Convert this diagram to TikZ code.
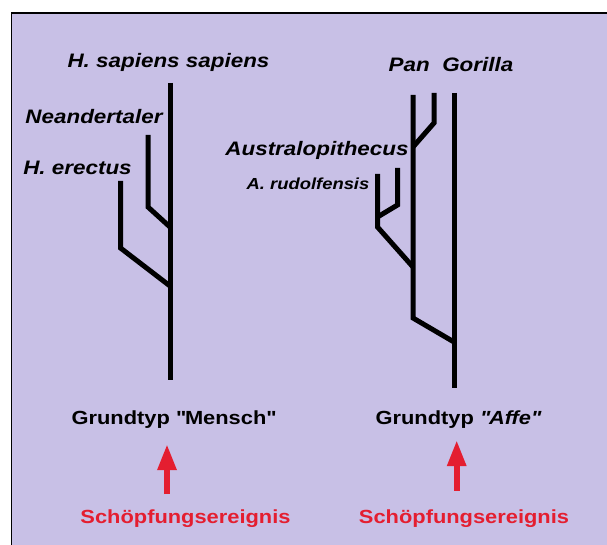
\documentclass[tikz,border=0pt]{standalone}
\usepackage{fontspec}
\setmainfont{Liberation Sans}[FakeStretch=1.15]
\usetikzlibrary{arrows.meta}
\definecolor{lilac}{HTML}{C8C0E6}
\definecolor{evred}{HTML}{E41E30}

\begin{document}
\begin{tikzpicture}[x=1pt,y=-1pt,>=Latex,
  taxon/.style={font=\fontsize{19.5}{22}\selectfont\bfseries\itshape,inner sep=0pt,anchor=base},
  small taxon/.style={taxon,font=\fontsize{16}{18}\selectfont\bfseries\itshape},
  kind/.style={font=\fontsize{19}{22}\selectfont\bfseries,inner sep=0pt,anchor=base},
  event/.style={kind,text=evred},
  branch/.style={line width=5pt},
  evarrow/.style={-{Triangle[width=18pt,length=26pt]},line width=6pt,evred}]
\useasboundingbox (0,0) rectangle (607,545);
\fill[lilac] (11.5,13) rectangle (607,545);
\draw[line width=1.5pt] (11.5,545) |- (607,13);

\node[taxon] (sap) at (168.5,67.5) {H. sapiens sapiens};
\node[taxon] (nea) at (94,124) {Neandertaler};
\node[taxon] (ere) at (77.5,175) {H. erectus};
\draw[branch] (170,83) -- (170,380);
\draw[branch] (148,135) -- (148,207) -- (170,227);
\draw[branch] (120.5,181) -- (120.5,248) -- (170,286);

\node[taxon] (pango) at (451,72) {Pan\ \ Gorilla};
\node[taxon] (aus) at (317,156) {Australopithecus};
\node[small taxon] (rud) at (308,190) {A. rudolfensis};
\draw[branch] (454,93) -- (454,388);
\draw[branch] (413,95) -- (413,318) -- (454,342);
\draw[branch] (434,93) -- (434,123) -- (413,147);
\draw[branch] (377.5,174) -- (377.5,227) -- (413,267);
\draw[branch] (397.5,168) -- (397.5,205) -- (377.5,217);

\node[kind] (gt1) at (173.5,424) {Grundtyp \textquotedbl Mensch\textquotedbl};
\node[kind] (gt2) at (458,424) {Grundtyp \textit{\textquotedbl Affe\textquotedbl}};
\node[event] (ev1) at (185.5,523) {Schöpfungsereignis};
\node[event] (ev2) at (464,523) {Schöpfungsereignis};
\draw[evarrow,shorten <=15pt,shorten >=16pt] ([xshift=-18.5pt]ev1.north) -- ([xshift=-6.5pt]gt1.south);
\draw[evarrow,shorten <=18.5pt,shorten >=12pt] ([xshift=-7.3pt]ev2.north) -- ([xshift=-1.3pt]gt2.south);
\end{tikzpicture}
\end{document}
